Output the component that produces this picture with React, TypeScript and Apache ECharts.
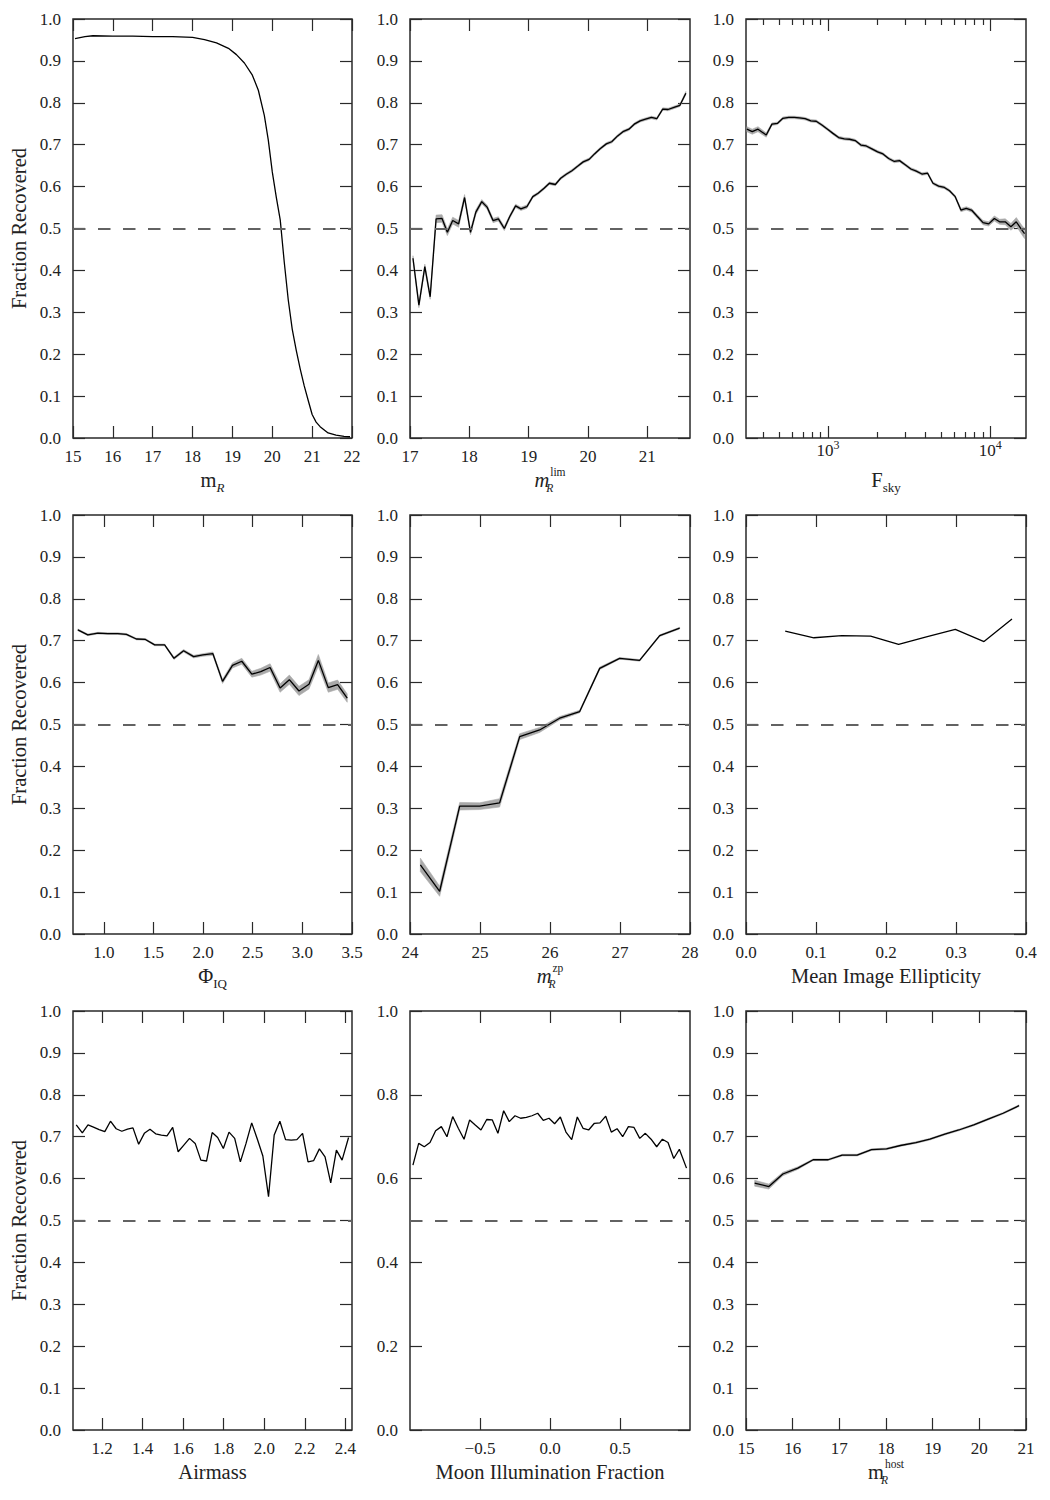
import React, { useEffect, useRef } from "react";
import * as echarts from "echarts";

// ---------- data ----------
const magX = [15.05, 15.3, 15.5, 16, 16.5, 17, 17.5, 18, 18.3, 18.6, 18.9, 19.1, 19.3, 19.5, 19.65, 19.8, 19.9, 20.0, 20.1, 20.2, 20.3, 20.4, 20.5, 20.6, 20.7, 20.8, 20.9, 21.0, 21.1, 21.2, 21.4, 21.6, 21.8, 21.95];
const magY = [0.953, 0.958, 0.96, 0.959, 0.959, 0.958, 0.958, 0.956, 0.951, 0.943, 0.93, 0.915, 0.895, 0.866, 0.83, 0.77, 0.711, 0.635, 0.575, 0.52, 0.42, 0.33, 0.26, 0.21, 0.165, 0.125, 0.09, 0.056, 0.038, 0.027, 0.012, 0.007, 0.004, 0.003];

const limX = [17.05, 17.15, 17.25, 17.34, 17.44, 17.54, 17.63, 17.72, 17.82, 17.92, 18.02, 18.11, 18.21, 18.3, 18.4, 18.49, 18.59, 18.68, 18.78, 18.87, 18.97, 19.07, 19.16, 19.26, 19.35, 19.45, 19.54, 19.64, 19.73, 19.83, 19.92, 20.02, 20.11, 20.21, 20.31, 20.4, 20.5, 20.59, 20.69, 20.78, 20.88, 20.97, 21.07, 21.16, 21.26, 21.35, 21.45, 21.55, 21.65];
const limY = [0.429, 0.317, 0.409, 0.337, 0.523, 0.524, 0.491, 0.519, 0.511, 0.574, 0.491, 0.539, 0.564, 0.551, 0.519, 0.523, 0.5, 0.528, 0.554, 0.547, 0.552, 0.576, 0.584, 0.596, 0.608, 0.605, 0.62, 0.63, 0.638, 0.649, 0.659, 0.665, 0.678, 0.691, 0.702, 0.707, 0.721, 0.731, 0.737, 0.749, 0.757, 0.761, 0.765, 0.762, 0.785, 0.784, 0.789, 0.794, 0.823];
const limE = [0.006, 0.006, 0.006, 0.006, 0.009, 0.009, 0.008, 0.008, 0.008, 0.007, 0.006, 0.006, 0.005, 0.005, 0.005, 0.005, 0.005, 0.004, 0.004, 0.004, 0.004, 0.003, 0.003, 0.003, 0.003, 0.003, 0.003, 0.003, 0.003, 0.003, 0.003, 0.003, 0.003, 0.003, 0.003, 0.003, 0.003, 0.003, 0.003, 0.003, 0.003, 0.003, 0.003, 0.003, 0.003, 0.003, 0.003, 0.003, 0.004];

const skyF = [317, 342, 371, 417, 452, 490, 528, 573, 621, 668, 724, 785, 847, 918, 995, 1074, 1164, 1262, 1358, 1472, 1596, 1722, 1866, 2023, 2183, 2366, 2564, 2761, 2992, 3243, 3499, 3793, 4111, 4436, 4808, 5212, 5610, 6081, 6592, 7112, 7709, 8356, 9016, 9772, 10593, 11402, 12359, 13397, 14454, 15668, 16255];
const skyY = [0.737, 0.731, 0.737, 0.723, 0.749, 0.751, 0.763, 0.765, 0.765, 0.764, 0.762, 0.757, 0.756, 0.747, 0.737, 0.727, 0.717, 0.714, 0.713, 0.71, 0.699, 0.697, 0.69, 0.683, 0.678, 0.667, 0.66, 0.662, 0.652, 0.642, 0.637, 0.63, 0.632, 0.608, 0.601, 0.598, 0.59, 0.576, 0.544, 0.548, 0.543, 0.528, 0.514, 0.511, 0.524, 0.516, 0.516, 0.504, 0.516, 0.496, 0.488];
const skyE = [0.006, 0.006, 0.006, 0.005, 0.003, 0.003, 0.003, 0.003, 0.003, 0.003, 0.003, 0.003, 0.003, 0.003, 0.003, 0.003, 0.003, 0.003, 0.003, 0.003, 0.003, 0.003, 0.003, 0.003, 0.003, 0.003, 0.003, 0.003, 0.003, 0.003, 0.003, 0.003, 0.003, 0.003, 0.003, 0.003, 0.003, 0.003, 0.004, 0.004, 0.004, 0.004, 0.005, 0.005, 0.006, 0.006, 0.007, 0.008, 0.01, 0.011, 0.012];
const skyMajor = [1000, 10000];
const skyMinor = [400, 500, 600, 700, 800, 900, 2000, 3000, 4000, 5000, 6000, 7000, 8000, 9000];

const iqX = [0.739, 0.839, 0.94, 1.04, 1.141, 1.228, 1.328, 1.419, 1.513, 1.613, 1.707, 1.804, 1.905, 1.998, 2.099, 2.196, 2.296, 2.39, 2.491, 2.581, 2.675, 2.776, 2.869, 2.966, 3.067, 3.161, 3.261, 3.355, 3.452];
const iqY = [0.726, 0.714, 0.718, 0.717, 0.717, 0.715, 0.704, 0.703, 0.69, 0.69, 0.658, 0.676, 0.662, 0.666, 0.669, 0.603, 0.641, 0.651, 0.62, 0.626, 0.636, 0.587, 0.607, 0.58, 0.596, 0.653, 0.588, 0.595, 0.563];
const iqE = [0.002, 0.002, 0.002, 0.002, 0.002, 0.002, 0.002, 0.002, 0.002, 0.002, 0.003, 0.003, 0.003, 0.003, 0.004, 0.005, 0.006, 0.007, 0.007, 0.008, 0.009, 0.01, 0.011, 0.011, 0.011, 0.014, 0.011, 0.011, 0.01];

const zpX = [24.148, 24.424, 24.71, 24.995, 25.28, 25.567, 25.852, 26.138, 26.424, 26.71, 26.995, 27.28, 27.567, 27.852];
const zpY = [0.165, 0.102, 0.305, 0.305, 0.313, 0.471, 0.487, 0.515, 0.531, 0.634, 0.658, 0.653, 0.712, 0.73];
const zpE = [0.016, 0.012, 0.009, 0.008, 0.01, 0.007, 0.006, 0.004, 0.003, 0.003, 0.002, 0.002, 0.002, 0.002];

const ellX = [0.056, 0.097, 0.137, 0.178, 0.218, 0.259, 0.299, 0.34, 0.38];
const ellY = [0.723, 0.707, 0.712, 0.711, 0.691, 0.71, 0.727, 0.698, 0.752];

const airX = [1.072, 1.102, 1.13, 1.157, 1.185, 1.213, 1.241, 1.269, 1.297, 1.325, 1.352, 1.38, 1.408, 1.436, 1.464, 1.492, 1.52, 1.548, 1.575, 1.603, 1.631, 1.659, 1.687, 1.715, 1.743, 1.77, 1.798, 1.826, 1.854, 1.882, 1.91, 1.938, 1.966, 1.993, 2.021, 2.049, 2.077, 2.105, 2.133, 2.161, 2.189, 2.216, 2.244, 2.272, 2.3, 2.328, 2.356, 2.384, 2.416];
const airY = [0.728, 0.709, 0.728, 0.723, 0.717, 0.712, 0.737, 0.719, 0.713, 0.718, 0.721, 0.682, 0.708, 0.718, 0.707, 0.704, 0.702, 0.722, 0.664, 0.68, 0.696, 0.684, 0.644, 0.642, 0.71, 0.698, 0.672, 0.711, 0.696, 0.64, 0.684, 0.733, 0.694, 0.654, 0.557, 0.704, 0.737, 0.693, 0.692, 0.693, 0.708, 0.64, 0.643, 0.671, 0.652, 0.59, 0.668, 0.644, 0.698];

const moonX = [-0.979, -0.938, -0.898, -0.857, -0.817, -0.776, -0.736, -0.695, -0.655, -0.614, -0.574, -0.534, -0.493, -0.452, -0.412, -0.372, -0.331, -0.291, -0.25, -0.21, -0.169, -0.129, -0.088, -0.048, -0.007, 0.033, 0.074, 0.114, 0.155, 0.195, 0.236, 0.276, 0.317, 0.357, 0.398, 0.438, 0.479, 0.519, 0.56, 0.6, 0.641, 0.681, 0.722, 0.762, 0.803, 0.843, 0.884, 0.924, 0.975];
const moonY = [0.632, 0.684, 0.676, 0.686, 0.714, 0.724, 0.7, 0.748, 0.72, 0.694, 0.74, 0.728, 0.716, 0.741, 0.74, 0.708, 0.762, 0.736, 0.75, 0.744, 0.746, 0.75, 0.756, 0.739, 0.744, 0.731, 0.747, 0.711, 0.693, 0.747, 0.72, 0.716, 0.732, 0.733, 0.749, 0.711, 0.719, 0.7, 0.724, 0.722, 0.696, 0.708, 0.694, 0.676, 0.694, 0.686, 0.648, 0.67, 0.625];

const hostX = [15.186, 15.49, 15.79, 16.11, 16.44, 16.76, 17.06, 17.38, 17.69, 18.01, 18.31, 18.64, 18.94, 19.26, 19.56, 19.88, 20.19, 20.51, 20.85];
const hostY = [0.589, 0.581, 0.611, 0.625, 0.645, 0.645, 0.656, 0.656, 0.669, 0.671, 0.679, 0.686, 0.694, 0.706, 0.716, 0.728, 0.742, 0.756, 0.774];
const hostE = [0.007, 0.006, 0.004, 0.003, 0.002, 0.002, 0.002, 0.002, 0.002, 0.002, 0.002, 0.002, 0.002, 0.002, 0.002, 0.002, 0.002, 0.002, 0.002];

const ticksMag = [15, 16, 17, 18, 19, 20, 21, 22];
const ticksLim = [17, 18, 19, 20, 21];
const ticksIQ = [1.0, 1.5, 2.0, 2.5, 3.0, 3.5];
const ticksZp = [24, 25, 26, 27, 28];
const ticksEll = [0.0, 0.1, 0.2, 0.3, 0.4];
const ticksAir = [1.2, 1.4, 1.6, 1.8, 2.0, 2.2, 2.4];
const ticksMoon = [-0.5, 0.0, 0.5];
const ticksHost = [15, 16, 17, 18, 19, 20, 21];

// ---------- styling ----------
const FONT = "Liberation Serif";
const TXT = "#222";
const AX = "#2a2a2a";
const NAME_SIZE = 20.5;

const fmtInt = (v: number) => String(Math.round(v));
const fmt1 = (v: number) => (Math.abs(v) < 1e-9 ? "0.0" : v < 0 ? "\u2212" + Math.abs(v).toFixed(1) : v.toFixed(1));
const fmtPow = (v: number) => "10{s|" + Math.round(v) + "}";
const lg = (v: number) => Math.log10(v);
const ident = (v: number) => v;

type Panel = {
  x: number[]; y: number[]; e?: number[];
  xMin: number; xMax: number; ticks: number[]; minor?: number[];
  fmt: (v: number) => string; name: string; yInt: number; tx: (v: number) => number;
};

const panels: Panel[] = [
  { x: magX, y: magY, xMin: 15, xMax: 22, ticks: ticksMag, fmt: fmtInt, name: "{r|m}{sb|R}", yInt: 0.1, tx: ident },
  { x: limX, y: limY, e: limE, xMin: 17, xMax: 21.72, ticks: ticksLim, fmt: fmtInt, name: "{i|m}{sbw|R}{sp|lim}", yInt: 0.1, tx: ident },
  { x: skyF, y: skyY, e: skyE, xMin: 313, xMax: 16590, ticks: skyMajor, minor: skyMinor, fmt: fmtPow, name: "{r|F}{sbr|sky}", yInt: 0.1, tx: lg },
  { x: iqX, y: iqY, e: iqE, xMin: 0.69, xMax: 3.5, ticks: ticksIQ, fmt: fmt1, name: "{r|\u03A6}{sbr|IQ}", yInt: 0.1, tx: ident },
  { x: zpX, y: zpY, e: zpE, xMin: 24, xMax: 28, ticks: ticksZp, fmt: fmtInt, name: "{i|m}{sbw|R}{sp|zp}", yInt: 0.1, tx: ident },
  { x: ellX, y: ellY, xMin: 0, xMax: 0.4, ticks: ticksEll, fmt: fmt1, name: "Mean Image Ellipticity", yInt: 0.1, tx: ident },
  { x: airX, y: airY, xMin: 1.056, xMax: 2.433, ticks: ticksAir, fmt: fmt1, name: "Airmass", yInt: 0.1, tx: ident },
  { x: moonX, y: moonY, xMin: -1.0, xMax: 1.0, ticks: ticksMoon, fmt: fmt1, name: "Moon Illumination Fraction", yInt: 0.2, tx: ident },
  { x: hostX, y: hostY, e: hostE, xMin: 15, xMax: 21, ticks: ticksHost, fmt: fmtInt, name: "{r|m}{sbw|R}{sp|host}", yInt: 0.1, tx: ident },
];

const LEFTS = [73, 410, 746];
const WIDTHS = [279, 280, 280];
const TOPS = [19, 515, 1011];
const H = 419;

const base = { fontFamily: FONT, color: TXT };
const nameRich = {
  r: { ...base, fontSize: NAME_SIZE, lineHeight: 28 },
  i: { ...base, fontSize: NAME_SIZE, lineHeight: 28, fontStyle: "italic" },
  sb: { ...base, fontSize: 13, lineHeight: 20, verticalAlign: "bottom", fontStyle: "italic" },
  sbr: { ...base, fontSize: 13, lineHeight: 18, verticalAlign: "bottom" },
  sbw: { ...base, fontSize: 11.5, lineHeight: 12, verticalAlign: "bottom", fontStyle: "italic", width: 1 },
  sp: { ...base, fontSize: 11.5, lineHeight: 8, verticalAlign: "top" },
};

function buildOption() {
  const grid: any[] = [];
  const xAxis: any[] = [];
  const yAxis: any[] = [];
  const series: any[] = [];
  const tick = (len: number, vals?: number[]) => ({
    show: true, inside: true, length: len,
    lineStyle: { color: AX, width: 1.2 },
    ...(vals ? { customValues: vals } : {}),
  });
  const noLine = { show: false, onZero: false };
  panels.forEach((p, k) => {
    const row = Math.floor(k / 3);
    const col = k % 3;
    grid.push({
      left: LEFTS[col], top: TOPS[row], width: WIDTHS[col], height: H,
      show: true, borderColor: AX, borderWidth: 1.5, backgroundColor: "transparent",
      containLabel: false, outerBoundsMode: "none",
    });
    const mn = p.tx(p.xMin);
    const mx = p.tx(p.xMax);
    const tv = p.ticks.map(p.tx);
    const isLog = !!p.minor;
    const xi = xAxis.length;
    xAxis.push({
      gridIndex: k, type: "value", position: "bottom", min: mn, max: mx,
      axisLine: noLine, splitLine: { show: false },
      axisTick: tick(12, tv),
      axisLabel: {
        customValues: tv,
        formatter: (v: number) => p.fmt(v),
        margin: isLog ? 1 : 10, fontFamily: FONT, fontSize: 17, color: TXT,
        lineHeight: isLog ? 22 : 17,
        rich: { s: { ...base, fontSize: 12, lineHeight: 12, verticalAlign: "top" } },
      },
      name: p.name, nameLocation: "middle", nameGap: 28,
      nameTextStyle: { ...base, fontSize: NAME_SIZE, lineHeight: 28, rich: nameRich },
    });
    xAxis.push({
      gridIndex: k, type: "value", position: "top", min: mn, max: mx,
      axisLine: noLine, splitLine: { show: false },
      axisTick: tick(12, tv), axisLabel: { show: false },
    });
    if (p.minor) {
      const mv = p.minor.map(p.tx);
      ["bottom", "top"].forEach((pos) =>
        xAxis.push({
          gridIndex: k, type: "value", position: pos, min: mn, max: mx,
          axisLine: noLine, splitLine: { show: false },
          axisTick: tick(6, mv), axisLabel: { show: false },
        })
      );
    }
    const yi = yAxis.length;
    yAxis.push({
      gridIndex: k, type: "value", position: "left", min: 0, max: 1, interval: p.yInt,
      axisLine: noLine, splitLine: { show: false },
      axisTick: tick(12),
      axisLabel: { formatter: (v: number) => fmt1(v), margin: 12, fontFamily: FONT, fontSize: 17, color: TXT },
      name: col === 0 ? "Fraction Recovered" : "", nameLocation: "middle", nameGap: 44,
      nameTextStyle: { ...base, fontSize: NAME_SIZE },
    });
    yAxis.push({
      gridIndex: k, type: "value", position: "right", min: 0, max: 1, interval: p.yInt,
      axisLine: noLine, splitLine: { show: false },
      axisTick: tick(12), axisLabel: { show: false },
    });
    if (p.e) {
      const e = p.e;
      series.push({
        type: "custom", xAxisIndex: xi, yAxisIndex: yi, silent: true, z: 1,
        data: [[mn, 0]],
        renderItem: (_params: any, api: any) => {
          const up = p.x.map((v, i) => api.coord([p.tx(v), p.y[i] + e[i]]));
          const lo = p.x.map((v, i) => api.coord([p.tx(v), p.y[i] - e[i]])).reverse();
          return {
            type: "polygon",
            shape: { points: up.concat(lo) },
            style: { fill: "#a9a9a9", stroke: "#a9a9a9", lineWidth: 0.6 },
          };
        },
      });
    }
    series.push({
      type: "line", xAxisIndex: xi, yAxisIndex: yi, symbol: "none", silent: true, z: 3,
      lineStyle: { color: "#000", width: 1.3 },
      data: p.x.map((v, i) => [p.tx(v), p.y[i]]),
      markLine: {
        silent: true, symbol: ["none", "none"], label: { show: false },
        lineStyle: { type: [12.5, 12.5], color: "#626262", width: 1.8 },
        data: [{ yAxis: 0.5 }],
      },
    });
  });
  return { animation: false, backgroundColor: "#fff", grid, xAxis, yAxis, series };
}

export default function App() {
  const ref = useRef<HTMLDivElement>(null);
  useEffect(() => {
    document.body.style.margin = "0";
    if (!ref.current) return;
    const chart = echarts.init(ref.current, null, { renderer: "svg" });
    chart.setOption(buildOption() as any);
    return () => chart.dispose();
  }, []);
  return <div ref={ref} style={{ position: "absolute", left: 0, top: 0, width: 1050, height: 1500 }} />;
}
